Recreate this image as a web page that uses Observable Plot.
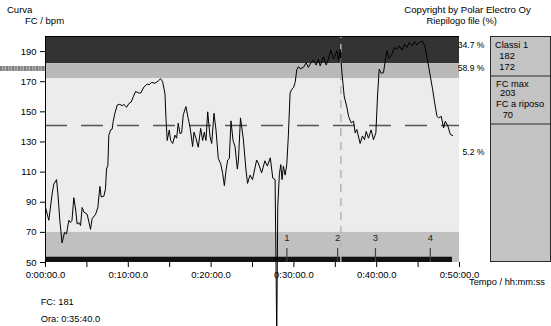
<!DOCTYPE html>
<html>
<head>
<meta charset="utf-8">
<script src="https://cdn.jsdelivr.net/npm/d3@7"></script>
<script src="https://cdn.jsdelivr.net/npm/@observablehq/plot@0.6"></script>
<style>
  html, body { margin: 0; padding: 0; background: #fff; }
  #wrap { position: relative; width: 551px; height: 326px; overflow: hidden; font-family: "Liberation Sans", Arial, sans-serif; }
  #wrap svg { position: absolute; left: 0; top: 0; }
  #noise { position: absolute; left: 0; top: 66px; width: 45px; height: 5px;
    background: repeating-linear-gradient(90deg, #6a6a6a 0 2px, #9a9a9a 2px 3px, #7c7c7c 3px 5px, #a8a8a8 5px 6px); opacity: 0.85; }
</style>
</head>
<body>
<div id="wrap"><div id="noise"></div></div>
<script>
// ---- data ----
const times = [0.00,0.40,0.80,1.00,1.33,1.50,1.73,2.00,2.30,2.54,2.82,3.02,3.20,3.42,3.63,3.82,4.03,4.23,4.43,4.63,5.03,5.44,5.63,6.05,6.32,6.57,6.72,7.05,7.25,7.37,7.53,7.65,7.86,8.05,8.17,8.38,8.66,8.98,9.26,9.47,9.79,10.07,10.35,10.60,10.88,11.28,11.50,11.89,12.29,12.53,12.82,13.22,13.62,13.90,14.15,14.43,14.55,14.70,14.95,15.11,15.36,15.64,15.84,16.03,16.24,16.44,16.64,16.96,17.24,17.45,17.77,17.93,18.17,18.45,18.74,18.98,19.18,19.38,19.59,19.87,20.07,20.35,20.59,20.87,21.16,21.40,21.60,21.80,22.00,22.20,22.40,22.65,22.89,23.17,23.30,23.55,23.89,24.20,24.40,24.70,25.00,25.50,25.70,26.10,26.50,26.80,27.15,27.45,27.73,27.93,28.05,28.25,28.42,28.57,28.73,28.94,29.14,29.33,29.54,29.75,29.94,30.15,30.35,30.55,30.75,31.15,31.48,31.75,32.04,32.36,32.68,32.96,33.17,33.57,33.90,34.17,34.46,34.78,35.19,35.38,35.59,35.80,36.07,36.40,36.60,36.92,37.20,37.40,37.60,38.00,38.28,38.53,38.73,39.01,39.33,39.61,39.90,40.10,40.30,40.54,40.82,41.03,41.23,41.50,41.84,42.15,42.44,42.72,43.05,43.36,43.65,43.93,44.26,44.57,44.86,45.14,45.54,45.86,46.19,46.47,46.75,47.00,47.28,47.47,47.80,48.08,48.28,48.60,48.89,49.17];
const heartRate = [86.7,78,95.5,102,105,95.5,78,63,70,69,78,76.5,78,93,85.5,75.5,76.5,74.5,86.5,83.5,82,72,79,82,86.5,100.5,93.5,94,99,112,114.5,134.5,138,138.5,143.5,149,154.5,155,154,155,153,155.5,156.5,160,163.5,162.5,162.5,166.5,168.5,168,169.5,169,170.5,172,170,162,145.5,131,138,131,129,134.5,132.5,142.5,135.5,136,148,153.5,145.5,140,127,136.5,132.5,126.5,139,131,136.5,131,150,133.5,129,149,138,119,115.5,109,101,111,118,119,144,131,127,112,118,146,132,112,102.5,108,105,118,116,109.5,117.5,114,119.5,106,105,0,87,109,115,105,114,108,115,134,162.5,165,166,169.5,178,180,178.5,179.5,182.5,179.5,182.5,184.5,181,185,180.5,186.5,181,185,191,185,190.5,184,191.5,176,160.5,153,147,142.7,143.8,136,138.3,129,134,131.5,137,132.5,138,131.5,136,160.5,178.3,175.6,176,183.8,190.5,185.4,188.3,192.7,191.6,193.8,191,195,192.7,196,193.8,196.5,194.3,196,197,192.7,182.7,173.8,165,156,147,146,147,139.3,143.8,140.5,135,134.3];
const zoneLow  = [182, 172, 70, 50];
const zoneHigh = [200, 182, 172, 70];
const zoneFill = ["#333333", "#b9b9b9", "#ececec", "#c0c0c0"];
const zonePercent = ["34.7 %", "58.9 %", "5.2 %"];
const averageHR = 141;
const cursorTime = 35 + 40/60;   // Ora: 0:35:40.0
const cursorHR = 181;
const lapTimes = [29.15, 35.28, 39.85, 46.47];
const recordingEnd = 49.15;
const yTicks = [50, 70, 90, 110, 130, 150, 170, 190];
const xTicks = [0, 5, 10, 15, 20, 25, 30, 35, 40, 45, 50];
const classLimits = ["182", "172"];
const hrMax = "203";
const hrRest = "70";

// ---- tables ----
const hr = times.map((t, i) => ({t, v: heartRate[i]}));
const zones = zoneLow.map((lo, i) => ({lo, hi: zoneHigh[i], fill: zoneFill[i]}));
const laps = lapTimes.map((t, i) => ({t, label: String(i + 1)}));
const fmtTime = m => `0:${String(Math.floor(m)).padStart(2, "0")}:${String(Math.round((m % 1) * 60)).padStart(2, "0")}.0`;

const chart = Plot.plot({
  width: 551, height: 326,
  marginLeft: 45, marginRight: 92, marginTop: 36, marginBottom: 64,
  x: {domain: [0, 50]},
  y: {domain: [50, 200]},
  style: {fontFamily: "'Liberation Sans', Arial, sans-serif", fontSize: "9.5px", color: "#000", background: "transparent", overflow: "visible"},
  marks: [
    Plot.rect(zones, {x1: 0, x2: 50, y1: "lo", y2: "hi", fill: d => d.fill}),
    Plot.ruleY([averageHR], {stroke: "#555", strokeWidth: 1.5, strokeDasharray: "22,14"}),
    Plot.rect([recordingEnd], {x1: 0, x2: d => d, y1: 50, y2: 53.5, fill: "#111"}),
    Plot.ruleX([cursorTime], {y1: 50, y2: 200, stroke: "#b4b4b4", strokeWidth: 1.5, strokeDasharray: "8,6"}),
    Plot.ruleX(laps, {x: "t", y1: 50, y2: 59.3, stroke: "#444", strokeWidth: 1.2}),
    Plot.text(laps, {x: "t", y: 66.4, text: "label", fontSize: 9.5, fill: "#222"}),
    Plot.line(hr, {x: "t", y: "v", stroke: "#000", strokeWidth: 1, curve: "linear"}),
    Plot.ruleX([0], {y1: 50, y2: 200, stroke: "#000", strokeWidth: 1}),
    Plot.ruleY([200], {stroke: "#000", strokeWidth: 1.2}),
    Plot.axisY({ticks: yTicks, tickSize: 5, tickPadding: 4, label: null, tickFormat: d => String(d)}),
    Plot.axisX({ticks: xTicks, tickSize: 5, tickPadding: 4, label: null,
      tickFormat: d => d % 10 === 0 ? fmtTime(d) : ""})
  ]
});
const wrap = document.getElementById("wrap");
wrap.appendChild(chart);

// ---- annotations ----
const svg = d3.select(wrap).append("svg")
  .attr("width", 551).attr("height", 326)
  .style("font-family", "'Liberation Sans', Arial, sans-serif")
  .style("overflow", "visible");
const txt = (s, x, y, size, anchor = "start") =>
  svg.append("text").attr("x", x).attr("y", y).attr("font-size", size)
     .attr("text-anchor", anchor).attr("fill", "#000").text(s);

txt("Curva", 7, 13.3, 9.5);
txt("FC / bpm", 25, 24, 9.5);
txt("Copyright by Polar Electro Oy", 467.5, 12.8, 9.6, "middle");
txt("Riepilogo file (%)", 461.7, 23.6, 9.3, "middle");

// zone percent labels (placed right of frame)
txt(zonePercent[0], 484.5, 47.7, 8.6, "end");
txt(zonePercent[1], 484.5, 71, 8.6, "end");
txt(zonePercent[2], 484.5, 155, 8.6, "end");

// right panel
svg.append("rect").attr("x", 490.5).attr("y", 36.5).attr("width", 60).attr("height", 225)
  .attr("fill", "#c3c3c3").attr("stroke", "#2a2a2a").attr("stroke-width", 1);
svg.append("line").attr("x1", 490.5).attr("x2", 550.5).attr("y1", 76).attr("y2", 76).attr("stroke", "#2a2a2a");
svg.append("line").attr("x1", 490.5).attr("x2", 550.5).attr("y1", 124).attr("y2", 124).attr("stroke", "#2a2a2a");
txt("Classi 1", 495, 47.7, 9.3);
txt(classLimits[0], 499.3, 59.3, 9.3);
txt(classLimits[1], 499.3, 70, 9.3);
txt("FC max", 496, 86.7, 9.3);
txt(hrMax, 500, 96, 9.3);
txt("FC a riposo", 496, 106.7, 9.3);
txt(hrRest, 502.7, 117.7, 9.3);

txt("Tempo / hh:mm:ss", 469, 285, 9.3);
txt(`FC: ${cursorHR}`, 40.7, 305, 9.3);
txt(`Ora: ${fmtTime(cursorTime)}`, 40.7, 321.7, 9.3);
</script>
</body>
</html>
